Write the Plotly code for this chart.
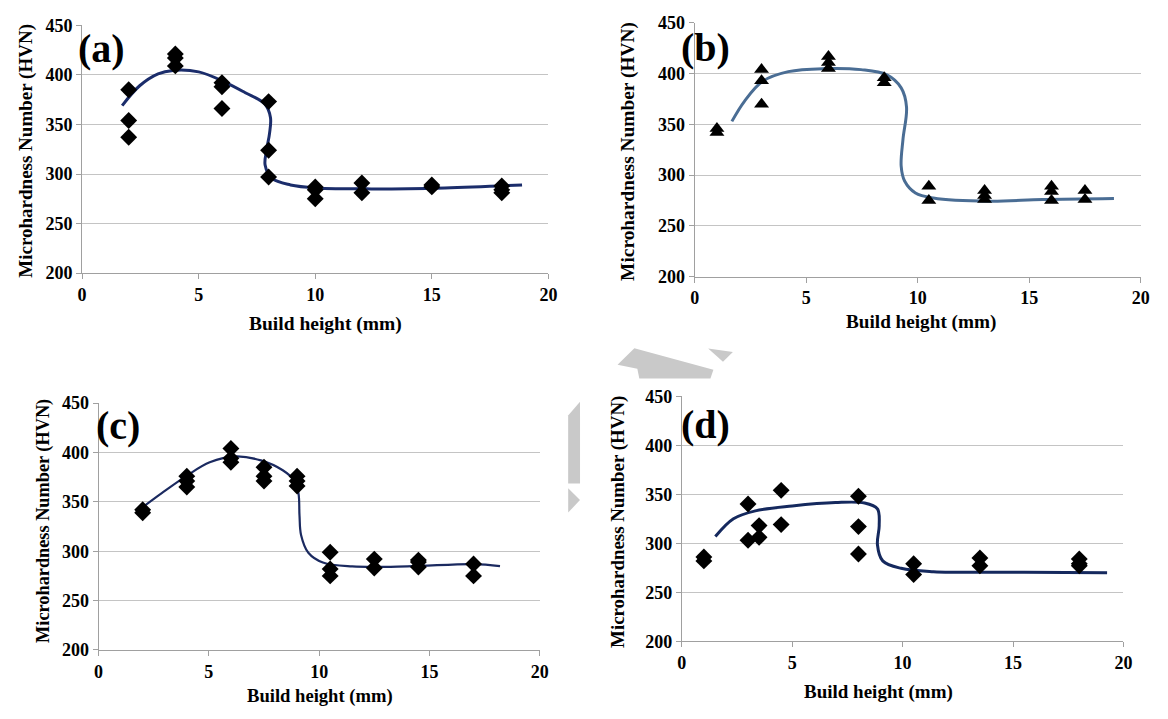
import plotly.graph_objects as go

W, H = 1168, 719

# ---------------- data ----------------
a_x = [2, 2, 2, 4, 4, 4, 6, 6, 6, 8, 8, 8, 10, 10, 10, 12, 12, 15, 15, 18, 18, 18]
a_y = [385, 354, 337, 421, 417, 409, 392, 388, 366, 373, 324, 297, 287, 284, 275, 291, 281, 289, 287, 288, 284, 281]
a_fit_x = [1.72, 2.47, 3.26, 3.9, 5.0, 6.1, 7.0, 7.84, 8.08, 8.04, 7.92, 7.85, 8.15, 8.94, 10.04, 12.4, 15.56, 18.87]
a_fit_y = [369, 389, 401, 404.5, 403, 393, 382, 370.6, 357, 341, 325, 309, 295.5, 289, 286, 285, 286, 289]

b_x = [1, 1, 3, 3, 3, 6, 6, 6, 8.5, 8.5, 10.5, 10.5, 13, 13, 13, 16, 16, 16, 17.5, 17.5]
b_y = [346, 342, 404, 393, 370, 417, 411, 405, 396, 391, 289, 275, 285, 280, 276, 289, 284, 275, 285, 276]
b_fit_x = [1.67, 2.24, 3.05, 4.2, 5.83, 7.46, 8.6, 9.26, 9.5, 9.34, 9.26, 9.42, 9.9, 10.7, 13.2, 15.6, 18.8]
b_fit_y = [353, 373, 392.5, 402, 405, 404, 399, 386, 367, 335, 309, 294, 282.5, 277.6, 274.4, 276, 277]

c_x = [2, 2, 4, 4, 4, 6, 6, 6, 7.5, 7.5, 7.5, 9, 9, 9, 10.5, 10.5, 10.5, 12.5, 12.5, 14.5, 14.5, 14.5, 17, 17]
c_y = [342, 339, 376, 371, 365, 404, 394, 390, 385, 376, 371, 376, 371, 366, 299, 282, 275, 292, 283, 291, 289, 284, 287, 275]
c_fit_x = [1.89, 2.88, 4.04, 5.04, 6.2, 7.36, 8.35, 8.85, 9.06, 9.11, 9.18, 9.51, 10.17, 11.5, 14.0, 17.0, 18.2]
c_fit_y = [342.7, 359, 377, 390, 396, 392, 382, 372, 359, 336, 316.5, 298.5, 288.6, 284.6, 284.6, 287, 285]

d_x = [1, 1, 3, 3, 3.5, 3.5, 4.5, 4.5, 8, 8, 8, 10.5, 10.5, 13.5, 13.5, 18, 18, 18]
d_y = [286, 282, 340, 303, 318, 306, 354, 319, 348, 317, 289, 279, 268, 285, 277, 284, 279, 277]
d_fit_x = [1.52, 2.34, 3.33, 5.0, 6.96, 8.28, 8.86, 8.94, 8.86, 9.1, 9.93, 11.4, 15.5, 19.26]
d_fit_y = [306.8, 325, 333, 338, 341.5, 341, 335, 318, 298.5, 282, 274.4, 271, 270.4, 269.8]

x_ticks = [0, 5, 10, 15, 20]
y_ticks = [200, 250, 300, 350, 400, 450]
panel_labels = ["(a)", "(b)", "(c)", "(d)"]
x_title = "Build height (mm)"
y_title = "Microhardness Number (HVN)"

# ---------------- layout geometry (pixels) ----------------
panels = [
    # x0, x1, ytop, ybot, label center, ytitle (x,y,size), xtitle (x,y,size)
    dict(x0=78, x1=550, yt=15.7, yb=270.7, lab=(98, 40), yti=(21, 145, 19), xti=(324, 323, 19.5)),
    dict(x0=698, x1=1149.5, yt=13.3, yb=274.3, lab=(709, 39), yti=(630.5, 145, 19.4), xti=(927, 321, 19.2)),
    dict(x0=94.7, x1=541.2, yt=404.3, yb=658.3, lab=(114, 427), yti=(39, 526, 18.3), xti=(319, 706, 18.6)),
    dict(x0=685, x1=1132, yt=397.3, yb=649.3, lab=(709, 426), yti=(621, 527, 18.9), xti=(884.5, 702, 19)),
]
series = [
    (a_x, a_y, a_fit_x, a_fit_y, "diamond", "#1b2d6b", 3),
    (b_x, b_y, b_fit_x, b_fit_y, "triangle-up", "#4a6d94", 3),
    (c_x, c_y, c_fit_x, c_fit_y, "diamond", "#1b2a60", 2.2),
    (d_x, d_y, d_fit_x, d_fit_y, "diamond", "#15295e", 3),
]

def px(x):
    return x / W

def py(y):
    return 1 - y / H

FONT = "Liberation Serif"
fig = go.Figure()
annotations = []
for i, (p, s) in enumerate(zip(panels, series)):
    n = "" if i == 0 else str(i + 1)
    xa, ya = "x" + n, "y" + n
    mx, my, fx, fy, sym, col, lw = s
    fig.add_trace(go.Scatter(x=fx, y=fy, xaxis=xa, yaxis=ya, mode="lines",
                             line=dict(color=col, width=lw, shape="spline", smoothing=1.0),
                             showlegend=False, hoverinfo="skip"))
    fig.add_trace(go.Scatter(x=mx, y=my, xaxis=xa, yaxis=ya, mode="markers",
                             marker=dict(symbol=sym, size=13, color="black"),
                             showlegend=False))
    axis_common = dict(showline=True, linecolor="#a0a0a0", linewidth=1,
                       ticks="outside", ticklen=5, tickcolor="#a0a0a0",
                       zeroline=False,
                       tickfont=dict(family=FONT, size=18, color="black", weight="bold"))
    fig.layout["xaxis" + n] = dict(domain=[px(p["x0"]), px(p["x1"])], range=[0, 20],
                                   tickvals=x_ticks, showgrid=False, anchor=ya, **axis_common)
    fig.layout["yaxis" + n] = dict(domain=[py(p["yb"]), py(p["yt"])], range=[200, 450],
                                   tickvals=y_ticks, showgrid=True, gridcolor="#c4c4c4",
                                   gridwidth=1, anchor=xa, **axis_common)
    annotations.append(dict(x=px(p["lab"][0]), y=py(p["lab"][1]), xref="paper", yref="paper",
                            text=panel_labels[i], showarrow=False, xanchor="center", yanchor="middle",
                            font=dict(family=FONT, size=40, color="black", weight="bold")))
    annotations.append(dict(x=px(p["yti"][0]), y=py(p["yti"][1]), xref="paper", yref="paper",
                            text=y_title, showarrow=False, textangle=-90,
                            xanchor="center", yanchor="middle",
                            font=dict(family=FONT, size=p["yti"][2], color="black", weight="bold")))
    annotations.append(dict(x=px(p["xti"][0]), y=py(p["xti"][1]), xref="paper", yref="paper",
                            text=x_title, showarrow=False, xanchor="center", yanchor="middle",
                            font=dict(family=FONT, size=p["xti"][2], color="black", weight="bold")))

# light grey watermark fragments (decorative)
def poly(pts):
    d = "M " + " L ".join(f"{px(x):.5f},{py(y):.5f}" for x, y in pts) + " Z"
    return dict(type="path", path=d, xref="paper", yref="paper",
                fillcolor="#c9c9c9", line=dict(width=0), layer="below")

shapes = [
    poly([(620, 365), (637, 348), (717, 370), (714, 379), (642, 379), (640, 369)]),
    poly([(711.7, 348.3), (736.7, 351.7), (726.7, 361.7)]),
    poly([(570, 417), (582, 403), (582, 487), (570, 487)]),
    poly([(570, 492), (582, 504), (570, 517)]),
]

fig.update_layout(width=W, height=H, margin=dict(l=0, r=0, t=0, b=0),
                  paper_bgcolor="white", plot_bgcolor="white",
                  annotations=annotations, shapes=shapes, showlegend=False)
fig.write_html("out.html")
